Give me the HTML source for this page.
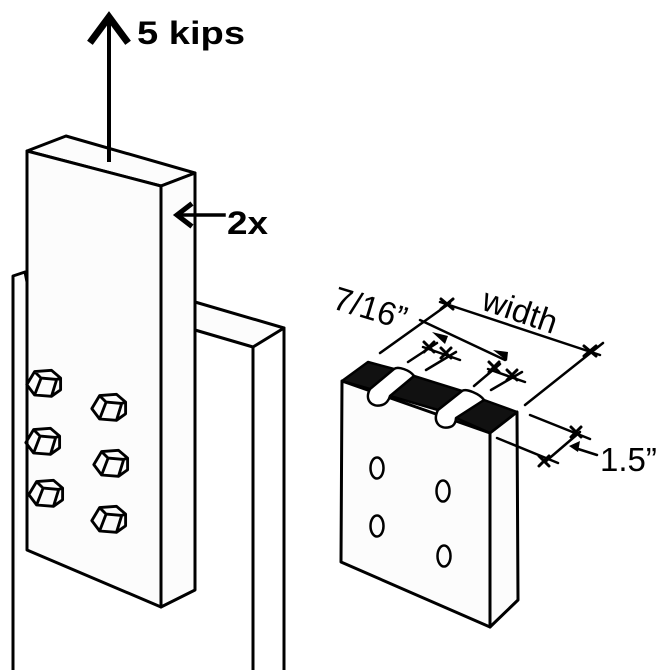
<!DOCTYPE html>
<html><head><meta charset="utf-8"><style>
html,body{margin:0;padding:0;background:#fff;}
svg{display:block;}
text{font-family:"Liberation Sans",Arial,sans-serif;fill:#000;}
</style></head><body>
<svg width="670" height="670" viewBox="0 0 670 670" xmlns="http://www.w3.org/2000/svg">
<defs>
  <path id="bolt" d="M-14,2 L-8,-8 L5,-9 L12,-3 L12,6 L5,11 L-8,10 Z M-8,-8 L-3,-3 L9,-2 L12,-3 M-3,-3 L-8,10 M9,-2 L5,11"/>
</defs>
<g fill="#fcfcfc" stroke="#000" stroke-width="3" stroke-linejoin="round" stroke-linecap="round">
  <path d="M13,670 L13,276 L25,272 L27,282"/>
  <path d="M195,302 L284,328 L253,347 L195,330" />
  <line x1="253" y1="347" x2="253" y2="670"/>
  <line x1="284" y1="328" x2="284" y2="670"/>
  <path d="M27,151 L66,136 L195,173 L161,186 Z"/>
  <path d="M161,186 L195,173 L195,590 L161,607 Z"/>
  <path d="M27,151 L161,186 L161,607 L27,550 Z"/>
</g>
<g fill="none" stroke="#000" stroke-width="2.2" stroke-linejoin="round">
  <use href="#bolt" transform="translate(45,382) scale(1.3)"/>
  <use href="#bolt" transform="translate(44,440) scale(1.3)"/>
  <use href="#bolt" transform="translate(47,492) scale(1.3)"/>
  <use href="#bolt" transform="translate(110,406) scale(1.3)"/>
  <use href="#bolt" transform="translate(112,462) scale(1.3)"/>
  <use href="#bolt" transform="translate(110,518) scale(1.3)"/>
</g>
<g stroke="#000" fill="none" stroke-linecap="square">
  <line x1="109" y1="160" x2="109" y2="18" stroke-width="4"/>
  <path d="M92,40 L109,17 L126,40" stroke-width="7" stroke-linejoin="miter"/>
  <line x1="224" y1="215" x2="180" y2="215" stroke-width="3.5"/>
  <path d="M190,205 L177,215 L190,225" stroke-width="5"/>
</g>
<text x="137" y="44" font-size="32" font-weight="bold" textLength="108" lengthAdjust="spacingAndGlyphs">5 kips</text>
<text x="227" y="234" font-size="32" font-weight="bold" textLength="41" lengthAdjust="spacingAndGlyphs">2x</text>

<g fill="#fcfcfc" stroke="#000" stroke-width="3" stroke-linejoin="round">
  <path d="M342,381 L490,433 L490,627 L341,562 Z"/>
  <path d="M490,433 L517,412 L518,600 L490,627 Z"/>
</g>
<g fill="#111" stroke="#000" stroke-width="2.5" stroke-linejoin="round">
  <path d="M342,381 L368,362 L394,369 L370,389 Z"/>
  <path d="M390,396 L414,376 L462,391 L438,410 Z"/>
  <path d="M456,418 L484,400 L517,412 L490,433 Z"/>
</g>
<g fill="#fff" stroke="#000" stroke-width="2.5" stroke-linejoin="round">
  <path d="M370,389 C364,400 372,408 382,405 C386,404 389,400 390,396 L414,376 C410,370 398,366 394,369 Z"/>
  <path d="M438,410 C432,422 440,430 450,427 C454,426 456,422 456,418 L484,400 C480,394 466,388 462,391 Z"/>
</g>
<g fill="none" stroke="#000" stroke-width="2.5">
  <ellipse cx="377" cy="468" rx="6.5" ry="10.5"/>
  <ellipse cx="443" cy="491" rx="6.5" ry="10.5"/>
  <ellipse cx="377" cy="526" rx="6.5" ry="10.5"/>
  <ellipse cx="444" cy="556" rx="6.5" ry="10.5"/>
</g>
<g stroke="#000" stroke-width="2.5" fill="none" stroke-linecap="round">
  <line x1="380" y1="353" x2="450" y2="303"/>
  <line x1="440" y1="302" x2="600" y2="355"/>
  <line x1="525" y1="405" x2="603" y2="343"/>
  <line x1="420" y1="320" x2="505" y2="360"/>
  <line x1="408" y1="362" x2="437" y2="343"/>
  <line x1="426" y1="370" x2="456" y2="352"/>
  <line x1="474" y1="386" x2="500" y2="364"/>
  <line x1="491" y1="390" x2="522" y2="372"/>
  <line x1="423" y1="347" x2="460" y2="360"/>
  <line x1="488" y1="369" x2="525" y2="382"/>
  <line x1="530" y1="415" x2="590" y2="439"/>
  <line x1="497" y1="438" x2="558" y2="463"/>
  <line x1="545" y1="462" x2="580" y2="432"/>
  <line x1="597" y1="455" x2="575" y2="448"/>
</g>
<g fill="#000">
  <path d="M445,344 L432,332 L448,336 Z"/>
  <path d="M507,361 L493,350 L508,352 Z"/>
  <path d="M569,446 L580,441 L578,452 Z"/>
</g>
<g stroke="#000" stroke-width="3" stroke-linecap="round">
  <path d="M441,299 L453,309 M453,299 L441,309"/>
  <path d="M584,346 L596,356 M596,346 L584,356"/>
  <path d="M424,342 L434,352 M434,342 L424,352"/>
  <path d="M441,348 L451,358 M451,348 L441,358"/>
  <path d="M489,362 L499,372 M499,362 L489,372"/>
  <path d="M507,370 L517,380 M517,370 L507,380"/>
  <path d="M571,427 L581,437 M581,427 L571,437"/>
  <path d="M539,456 L549,466 M549,456 L539,466"/>
</g>
<text font-size="33" transform="translate(331,308) rotate(17)">7/16”</text>
<text font-size="33" transform="translate(480,309) rotate(19)">width</text>
<text x="600" y="471" font-size="33">1.5”</text>
</svg>
</body></html>
